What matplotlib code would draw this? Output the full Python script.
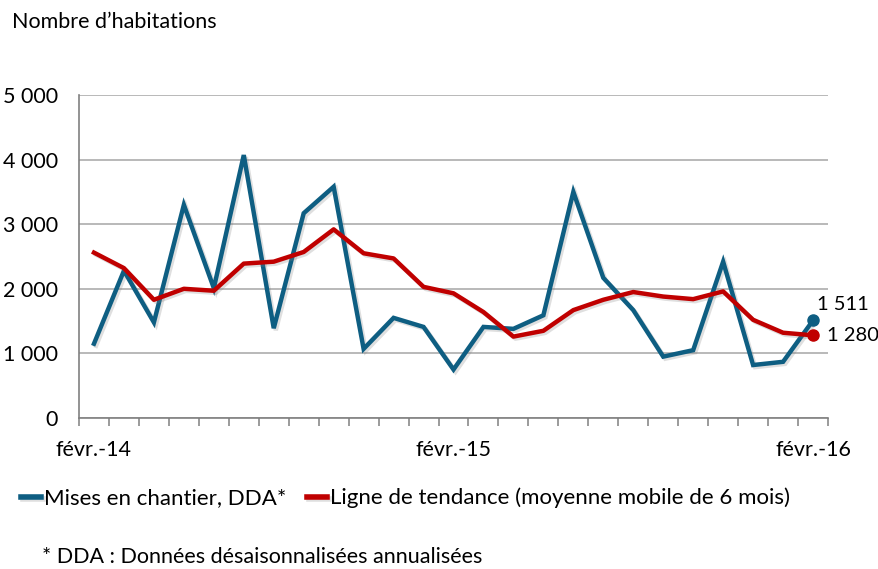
import numpy as np
import matplotlib.pyplot as plt
import matplotlib.patheffects as pe
from matplotlib.ticker import FixedLocator, MultipleLocator, FuncFormatter

plt.rcParams['font.family'] = ['Lato', 'DejaVu Sans']

# monthly data, févr.-14 to févr.-16
months = ['févr.-14', 'mars-14', 'avr.-14', 'mai-14', 'juin-14', 'juil.-14', 'août-14',
          'sept.-14', 'oct.-14', 'nov.-14', 'déc.-14', 'janv.-15', 'févr.-15',
          'mars-15', 'avr.-15', 'mai-15', 'juin-15', 'juil.-15', 'août-15',
          'sept.-15', 'oct.-15', 'nov.-15', 'déc.-15', 'janv.-16', 'févr.-16']
mises = [1150, 2280, 1480, 3300, 2010, 4070, 1390, 3170, 3580, 1070, 1550, 1410, 750,
         1410, 1380, 1590, 3500, 2170, 1670, 950, 1050, 2420, 820, 870, 1511]
tendance = [2560, 2320, 1830, 2000, 1970, 2390, 2420, 2570, 2920, 2550, 2470, 2030, 1930,
            1640, 1260, 1350, 1670, 1830, 1950, 1880, 1840, 1960, 1520, 1320, 1280]
labels_shown = {0: 'févr.-14', 12: 'févr.-15', 24: 'févr.-16'}

blue = '#0E5E82'
red = '#C00000'

fig = plt.figure(figsize=(8.79, 5.69), dpi=100)
ax = fig.add_axes([79/879, 1-418/569, (828-79)/879, (418-95)/569])

x = np.arange(len(months))
shadow = [pe.SimpleLineShadow(offset=(1.5, -1.5), alpha=0.25, shadow_color='gray'), pe.Normal()]
ax.plot(x, mises, color=blue, lw=3.2, solid_joinstyle='miter', path_effects=shadow, zorder=3,
        label='Mises en chantier, DDA*')
ax.plot(x, tendance, color=red, lw=3.2, path_effects=shadow, zorder=4,
        label='Ligne de tendance (moyenne mobile de 6 mois)')
ax.plot(x[-1], mises[-1], 'o', color=blue, ms=8, zorder=5)
ax.plot(x[-1], tendance[-1], 'o', color=red, ms=8, zorder=6)

ax.annotate('1 511', (x[-1], mises[-1]), xytext=(3, 5), textcoords='offset points',
            fontsize=14.5, va='bottom', ha='left')
ax.annotate('1 280', (x[-1], tendance[-1]), xytext=(10, 0), textcoords='offset points',
            fontsize=14.5, va='center', ha='left')

ax.set_xlim(-0.5, len(months) - 0.5)
ax.set_ylim(0, 5000)
ax.yaxis.set_major_locator(MultipleLocator(1000))
ax.yaxis.set_major_formatter(FuncFormatter(lambda v, p: f'{int(v):,}'.replace(',', ' ')))
ax.grid(axis='y', color='#A6A6A6', lw=1.1)
ax.set_axisbelow(True)

ax.xaxis.set_major_locator(FixedLocator(list(labels_shown.keys())))
ax.set_xticklabels(list(labels_shown.values()))
ax.xaxis.set_minor_locator(FixedLocator(np.arange(-0.5, len(months), 1)))
ax.tick_params(axis='x', which='major', length=0, labelsize=15.5, pad=16)
ax.tick_params(axis='x', which='minor', length=6, width=1.1, color='#808080')
ax.tick_params(axis='y', length=0, labelsize=15.5, pad=15)

for s in ['top', 'right']:
    ax.spines[s].set_visible(False)
for s in ['left', 'bottom']:
    ax.spines[s].set_color('#808080')
    ax.spines[s].set_linewidth(1.2)

fig.text(12/879, 1-22/569, 'Nombre d\u2019habitations', fontsize=15.5, va='center', ha='left')

leg = fig.legend(loc='center left', bbox_to_anchor=(12/879, 1-498/569), ncol=2, frameon=False,
                 fontsize=16, handlelength=0.9, handletextpad=0.15, columnspacing=0.9,
                 borderaxespad=0)
for h in leg.legend_handles:
    h.set_linewidth(4)

fig.text(42/879, 1-557/569, '* DDA : Données désaisonnalisées annualisées',
         fontsize=15.5, va='center', ha='left')

fig.savefig('out.png', dpi=100)
